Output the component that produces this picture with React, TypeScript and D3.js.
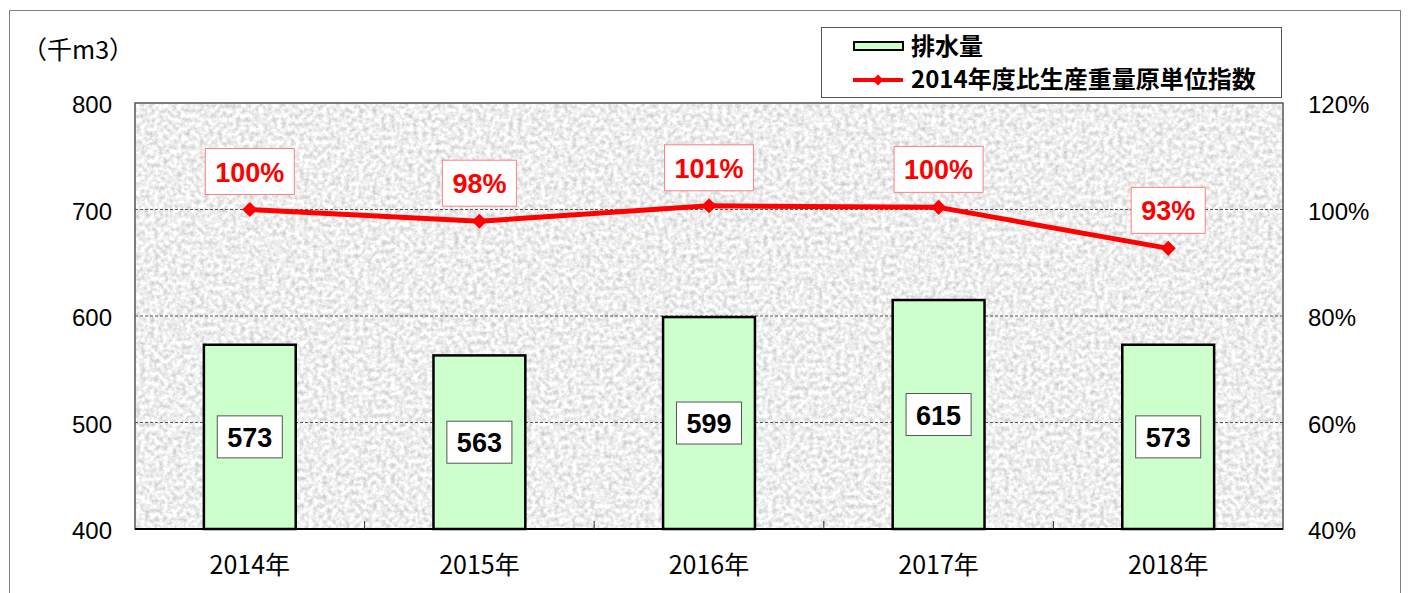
import React from "react";
import * as d3 from "d3";

const categories = ["2014年", "2015年", "2016年", "2017年", "2018年"];
const drainage = [573, 563, 599, 615, 573];
const indexValues = [1.0, 0.978, 1.007, 1.004, 0.927];
const indexLabels = ["100%", "98%", "101%", "100%", "93%"];
const leftTicks = [400, 500, 600, 700, 800];
const rightTicks = [0.4, 0.6, 0.8, 1.0, 1.2];
const gridTicks = [500, 600, 700];

const W = 1413;
const H = 593;
const plot = { left: 135, right: 1283, top: 103, bottom: 529 };

const numFont = "'Liberation Sans', Arial, 'Noto Sans CJK JP', sans-serif";
const jpFont = "'Noto Sans CJK JP', 'Liberation Sans', sans-serif";

function textWidthBold(s: string, size: number) {
  let w = 0;
  for (const c of s) {
    if (c === "%") w += 0.889 * size;
    else w += 0.556 * size;
  }
  return w;
}

export default function App() {
  const x = d3
    .scaleBand<string>()
    .domain(categories)
    .range([plot.left, plot.right])
    .paddingInner(0)
    .paddingOuter(0);
  const yL = d3.scaleLinear().domain([400, 800]).range([plot.bottom, plot.top]);
  const yR = d3.scaleLinear().domain([0.4, 1.2]).range([plot.bottom, plot.top]);
  const bw = x.bandwidth() * 0.4;
  const cx = (c: string) => (x(c) as number) + x.bandwidth() / 2;

  const line = d3
    .line<number>()
    .x((_, i) => cx(categories[i]))
    .y((d) => yR(d));

  const diamond = d3.symbol(d3.symbolSquare, 115)();
  const diamondSmall = d3.symbol(d3.symbolSquare, 60)();

  const boundaries = d3.range(1, categories.length).map((i) => plot.left + i * x.bandwidth());

  return (
    <svg
      width={W}
      height={H}
      style={{ position: "absolute", left: 0, top: 0, background: "#fff" }}
    >
      <defs>
        <filter id="granite" x="0" y="0" width="100%" height="100%" colorInterpolationFilters="sRGB">
          <feTurbulence type="fractalNoise" baseFrequency="0.22" numOctaves={3} seed={5} result="n" />
          <feColorMatrix
            in="n"
            type="matrix"
            values="0.38 0 0 0 0.745  0.38 0 0 0 0.745  0.38 0 0 0 0.745  0 0 0 0 1"
          />
        </filter>
      </defs>
      <rect x={0} y={0} width={W} height={H} fill="#fff" />
      {/* outer frame */}
      <rect x={9.5} y={10.5} width={1391} height={600} fill="none" stroke="#808080" strokeWidth={1} />

      {/* plot background */}
      <rect
        x={plot.left}
        y={plot.top}
        width={plot.right - plot.left}
        height={plot.bottom - plot.top}
        fill="#ececec"
        filter="url(#granite)"
      />

      {/* grid */}
      {gridTicks.map((t) => (
        <line
          key={t}
          x1={plot.left}
          x2={plot.right}
          y1={yL(t)}
          y2={yL(t)}
          stroke="#555"
          strokeWidth={1}
          strokeDasharray="3,2"
        />
      ))}

      {/* plot border */}
      <rect
        x={plot.left}
        y={plot.top}
        width={plot.right - plot.left}
        height={plot.bottom - plot.top}
        fill="none"
        stroke="#555"
        strokeWidth={1.5}
      />

      {/* bars */}
      {drainage.map((v, i) => (
        <rect
          key={i}
          x={cx(categories[i]) - bw / 2}
          y={yL(v)}
          width={bw}
          height={yL(400) - yL(v)}
          fill="#ccffcc"
          stroke="#000"
          strokeWidth={2.5}
        />
      ))}

      {/* bottom axis */}
      <line x1={plot.left} x2={plot.right} y1={plot.bottom} y2={plot.bottom} stroke="#000" strokeWidth={2} />
      {boundaries.map((b, i) => (
        <line key={i} x1={b} x2={b} y1={plot.bottom} y2={plot.bottom - 8} stroke="#333" strokeWidth={1} />
      ))}

      {/* bar labels */}
      {drainage.map((v, i) => {
        const s = String(v);
        const tw = textWidthBold(s, 27) + 20;
        const cy = (yL(v) + yL(400)) / 2;
        return (
          <g key={i}>
            <rect
              x={cx(categories[i]) - tw / 2}
              y={cy - 21}
              width={tw}
              height={42}
              fill="#fff"
              stroke="#555"
              strokeWidth={1}
            />
            <text
              x={cx(categories[i])}
              y={cy + 10}
              textAnchor="middle"
              fontFamily={numFont}
              fontWeight="bold"
              fontSize={27}
              fill="#000"
            >
              {s}
            </text>
          </g>
        );
      })}

      {/* line */}
      <path d={line(indexValues) || ""} fill="none" stroke="#ff0000" strokeWidth={5} strokeLinejoin="round" />
      {indexValues.map((v, i) => (
        <path
          key={i}
          d={diamond || ""}
          transform={`translate(${cx(categories[i])},${yR(v)}) rotate(45)`}
          fill="#ff0000"
        />
      ))}

      {/* line labels */}
      {indexValues.map((v, i) => {
        const s = indexLabels[i];
        const tw = textWidthBold(s, 27) + 20;
        const cy = yR(v) - 38;
        return (
          <g key={i}>
            <rect
              x={cx(categories[i]) - tw / 2}
              y={cy - 23}
              width={tw}
              height={46}
              fill="#fff"
              stroke="#ff8080"
              strokeWidth={1}
            />
            <text
              x={cx(categories[i])}
              y={cy + 10}
              textAnchor="middle"
              fontFamily={numFont}
              fontWeight="bold"
              fontSize={27}
              fill="#ff0000"
            >
              {s}
            </text>
          </g>
        );
      })}

      {/* left ticks */}
      {leftTicks.map((t) => (
        <text
          key={t}
          x={112}
          y={yL(t) + 10}
          textAnchor="end"
          fontFamily={numFont}
          fontSize={24}
          fill="#000"
        >
          {t}
        </text>
      ))}
      {/* right ticks */}
      {rightTicks.map((t) => (
        <text
          key={t}
          x={1308}
          y={yR(t) + 10}
          textAnchor="start"
          fontFamily={numFont}
          fontSize={24}
          fill="#000"
        >
          {Math.round(t * 100) + "%"}
        </text>
      ))}
      {/* x labels */}
      {categories.map((c) => (
        <text
          key={c}
          x={cx(c)}
          y={574}
          textAnchor="middle"
          fontFamily={jpFont}
          fontSize={25}
          fill="#000"
        >
          {c}
        </text>
      ))}

      {/* unit */}
      <text x={22} y={59} fontFamily={jpFont} fontSize={25} fill="#000">
        （千m3）
      </text>

      {/* legend */}
      <rect x={821.5} y={27.5} width={460} height={70} fill="#fff" stroke="#555" strokeWidth={1} />
      <rect x={854} y={42} width={49} height={8} fill="#ccffcc" stroke="#000" strokeWidth={2} />
      <text x={911} y={55} fontFamily={jpFont} fontWeight="bold" fontSize={24} fill="#000">
        排水量
      </text>
      <line x1={853} x2={903} y1={80} y2={80} stroke="#ff0000" strokeWidth={4} />
      <path d={diamondSmall || ""} transform="translate(878,80) rotate(45)" fill="#ff0000" />
      <text x={911} y={88} fontFamily={jpFont} fontWeight="bold" fontSize={24} fill="#000">
        2014年度比生産重量原単位指数
      </text>
    </svg>
  );
}
